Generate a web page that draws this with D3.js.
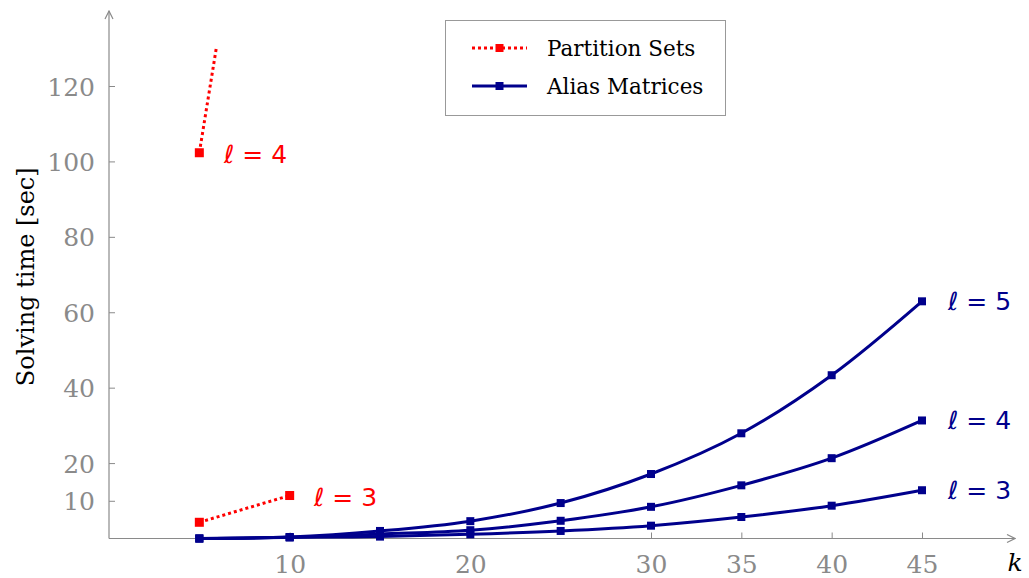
<!DOCTYPE html>
<html>
<head>
<meta charset="utf-8">
<script src="https://cdn.jsdelivr.net/npm/d3@7"></script>
<style>
  html, body { margin: 0; padding: 0; background: #fff; }
  svg { display: block; }
</style>
</head>
<body>
<svg id="chart" width="1029" height="578"></svg>
<script>
// ---- data ----
const kValues = [5, 10, 15, 20, 25, 30, 35, 40, 45];
const alias3 = [0, 0.3, 0.5, 1.1, 2.0, 3.4, 5.7, 8.7, 12.8];
const alias4 = [0, 0.3, 1.2, 2.2, 4.7, 8.4, 14.1, 21.3, 31.3];
const alias5 = [0, 0.4, 2.0, 4.6, 9.4, 17.1, 27.9, 43.3, 62.9];
const partitionK = [5, 10];
const partition3 = [4.3, 11.4];
const partition4 = [102.3, 250];
const xTicks = [10, 20, 30, 35, 40, 45];
const yTicks = [10, 20, 40, 60, 80, 100, 120];
const seriesLabels = ["Partition Sets", "Alias Matrices"];

// ---- layout ----
const svg = d3.select("#chart");
const blue = "#00008c", red = "#ff0000", gray = "#8a8a8a";
const serif = "DejaVu Serif";

const x = d3.scaleLinear().domain([0, 45]).range([109, 922]);
const y = d3.scaleLinear().domain([0, 120]).range([538.5, 86]);

const clipTop = y(130.2);
svg.append("defs").append("clipPath").attr("id", "plotclip")
  .append("rect").attr("x", x(0)).attr("y", clipTop)
  .attr("width", 1005 - x(0)).attr("height", y(0) - clipTop + 10);

// arrow marker
svg.select("defs").append("marker").attr("id", "arrow")
  .attr("viewBox", "0 0 10 10").attr("refX", 9).attr("refY", 5)
  .attr("markerWidth", 10).attr("markerHeight", 10).attr("markerUnits", "userSpaceOnUse")
  .attr("orient", "auto")
  .append("path").attr("d", "M1,1 L9,5 L1,9").attr("fill", "none")
  .attr("stroke", gray).attr("stroke-width", 1.2);

// ---- axes ----
const xAxis = svg.append("g").attr("transform", `translate(0,${y(0)})`)
  .call(d3.axisBottom(x).tickValues(xTicks).tickSize(-6).tickPadding(0).tickFormat(d3.format("d")));
xAxis.select(".domain").remove();
xAxis.selectAll(".tick line").attr("stroke", gray);
xAxis.selectAll(".tick text").attr("y", 34.5).attr("dy", 0)
  .attr("fill", gray).style("font-family", serif).style("font-size", "25px");

const yAxis = svg.append("g").attr("transform", `translate(${x(0)},0)`)
  .call(d3.axisLeft(y).tickValues(yTicks).tickSize(-6).tickPadding(14).tickFormat(d3.format("d")));
yAxis.select(".domain").remove();
yAxis.selectAll(".tick line").attr("stroke", gray);
yAxis.selectAll(".tick text").attr("fill", gray).attr("dy", "0.36em")
  .style("font-family", serif).style("font-size", "25px");

svg.append("line").attr("x1", x(0)).attr("y1", y(0)).attr("x2", 1015).attr("y2", y(0))
  .attr("stroke", gray).attr("stroke-width", 1.2).attr("marker-end", "url(#arrow)");
svg.append("line").attr("x1", x(0)).attr("y1", y(0)).attr("x2", x(0)).attr("y2", 11)
  .attr("stroke", gray).attr("stroke-width", 1.2).attr("marker-end", "url(#arrow)");

svg.append("text").attr("transform", `translate(34,${y(0) - (y(0) - 11) / 2 + 2}) rotate(-90)`)
  .attr("text-anchor", "middle").style("font-family", serif).style("font-size", "24px")
  .attr("fill", "#000").text("Solving time [sec]");
svg.append("text").attr("x", 1015).attr("y", 571).attr("text-anchor", "middle")
  .style("font-family", serif).style("font-style", "italic").style("font-size", "25px")
  .attr("fill", "#000").text("k");

// ---- series ----
const plot = svg.append("g").attr("clip-path", "url(#plotclip)");
const smooth = d3.line().x(d => x(d[0])).y(d => y(d[1])).curve(d3.curveCatmullRom.alpha(0.5));
const straight = d3.line().x(d => x(d[0])).y(d => y(d[1]));

function drawSeries(ks, vals, color, dotted, lineGen, ms) {
  const pts = ks.map((k, i) => [k, vals[i]]);
  plot.append("path").datum(pts).attr("d", lineGen).attr("fill", "none")
    .attr("stroke", color).attr("stroke-width", 3)
    .attr("stroke-dasharray", dotted ? "3,3" : null);
  plot.selectAll(null).data(pts).enter().append("rect")
    .attr("x", d => x(d[0]) - ms / 2).attr("y", d => y(d[1]) - ms / 2)
    .attr("width", ms).attr("height", ms).attr("fill", color);
}
[alias3, alias4, alias5].forEach(v => drawSeries(kValues, v, blue, false, smooth, 8));
drawSeries(partitionK, partition3, red, true, straight, 9);
drawSeries(partitionK, partition4, red, true, straight, 9);

// ---- series labels ----
function lab(px, py, txt, color) {
  svg.append("text").attr("x", px).attr("y", py).attr("dy", "0.36em")
    .style("font-family", "DejaVu Sans").style("font-size", "25px")
    .attr("fill", color).text(txt);
}
lab(948, y(62.9), "ℓ = 5", blue);
lab(948, y(31.3), "ℓ = 4", blue);
lab(948, y(12.8), "ℓ = 3", blue);
lab(224, y(102), "ℓ = 4", red);
lab(314, y(11.1), "ℓ = 3", red);

// ---- legend ----
const lg = svg.append("g");
lg.append("rect").attr("x", 445.5).attr("y", 20.5).attr("width", 280).attr("height", 95)
  .attr("fill", "#fff").attr("stroke", "#999").attr("stroke-width", 1);
const legendItems = [
  { label: seriesLabels[0], color: red, dotted: true, yy: 48 },
  { label: seriesLabels[1], color: blue, dotted: false, yy: 86 }
];
legendItems.forEach(it => {
  lg.append("line").attr("x1", 472).attr("x2", 527).attr("y1", it.yy).attr("y2", it.yy)
    .attr("stroke", it.color).attr("stroke-width", 3)
    .attr("stroke-dasharray", it.dotted ? "3,3" : null);
  lg.append("rect").attr("x", 499.5 - 4).attr("y", it.yy - 4).attr("width", 8).attr("height", 8)
    .attr("fill", it.color);
  lg.append("text").attr("x", 547).attr("y", it.yy).attr("dy", "0.36em")
    .style("font-family", serif).style("font-size", "21.5px").attr("fill", "#000").text(it.label);
});
</script>
</body>
</html>
